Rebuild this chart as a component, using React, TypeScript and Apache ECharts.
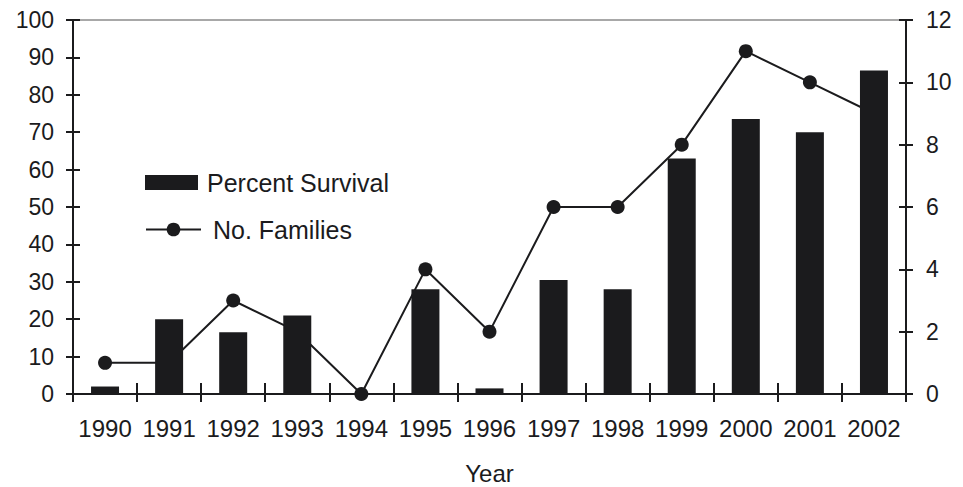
import React, { useEffect, useRef } from "react";
import * as echarts from "echarts";

const years = ["1990", "1991", "1992", "1993", "1994", "1995", "1996", "1997", "1998", "1999", "2000", "2001", "2002"];
const percentSurvival = [2, 20, 16.5, 21, 0, 28, 1.5, 30.5, 28, 63, 73.5, 70, 86.5];
const noFamilies = [1, 1, 3, 2, 0, 4, 2, 6, 6, 8, 11, 10, 9];

const FONT = "'Liberation Sans', Arial, sans-serif";
const INK = "#1b1b1d";

export default function App() {
  const ref = useRef<HTMLDivElement>(null);
  useEffect(() => {
    const chart = echarts.init(ref.current!, null, { renderer: "svg" });
    const labelStyle = { color: INK, fontFamily: FONT, fontSize: 23 };
    const leftAxisBase = { type: "value", min: 0, max: 100, interval: 10, position: "left" };
    const rightAxisBase = { type: "value", min: 0, max: 12, interval: 2, position: "right" };
    chart.setOption({
      animation: false,
      backgroundColor: "#ffffff",
      grid: {
        left: 73, right: 57, top: 20, bottom: 93,
        outerBoundsMode: "none", containLabel: false,
        show: true, borderColor: "#a8a8a8", borderWidth: 2,
      },
      legend: [
        {
          data: [{ name: "Percent Survival", icon: "rect" }],
          left: 140,
          top: 165,
          itemWidth: 53,
          itemHeight: 15,
          textStyle: { color: INK, fontFamily: FONT, fontSize: 25, padding: [0, 0, 0, 4] },
          selectedMode: false,
        },
        {
          data: ["No. Families"],
          left: 140,
          top: 212,
          itemWidth: 55,
          itemHeight: 17,
          textStyle: { color: INK, fontFamily: FONT, fontSize: 25, padding: [0, 0, 0, 7] },
          selectedMode: false,
        },
      ],
      xAxis: [
        {
          type: "category",
          data: years,
          boundaryGap: true,
          name: "Year",
          nameLocation: "middle",
          nameGap: 67,
          nameTextStyle: { color: INK, fontFamily: FONT, fontSize: 24 },
          axisLine: { lineStyle: { color: INK, width: 2 } },
          axisTick: { show: true, length: 8, lineStyle: { color: INK, width: 2 } },
          axisLabel: { ...labelStyle, fontSize: 24, margin: 22, interval: 0 },
          splitLine: { show: false },
        },
        {
          type: "category",
          data: years,
          position: "bottom",
          boundaryGap: true,
          axisLine: { show: false },
          axisTick: { show: true, inside: true, length: 11, lineStyle: { color: INK, width: 2 } },
          axisLabel: { show: false },
          splitLine: { show: false },
        },
      ],
      yAxis: [
        {
          ...leftAxisBase,
          axisLine: { show: true, lineStyle: { color: INK, width: 2 } },
          axisTick: { show: true, length: 7, lineStyle: { color: INK, width: 2 } },
          axisLabel: { ...labelStyle, margin: 19 },
          splitLine: { show: false },
        },
        {
          ...rightAxisBase,
          axisLine: { show: true, lineStyle: { color: INK, width: 2 } },
          axisTick: { show: true, length: 7, lineStyle: { color: INK, width: 2 } },
          axisLabel: { ...labelStyle, margin: 20 },
          splitLine: { show: false },
        },
        {
          ...leftAxisBase,
          axisLine: { show: false },
          axisTick: { show: true, inside: true, length: 7, lineStyle: { color: INK, width: 2 } },
          axisLabel: { show: false },
          splitLine: { show: false },
        },
        {
          ...rightAxisBase,
          axisLine: { show: false },
          axisTick: { show: true, inside: true, length: 7, lineStyle: { color: INK, width: 2 } },
          axisLabel: { show: false },
          splitLine: { show: false },
        },
      ],
      series: [
        {
          name: "Percent Survival",
          type: "bar",
          xAxisIndex: 0,
          yAxisIndex: 0,
          data: percentSurvival,
          barWidth: 28,
          itemStyle: { color: INK },
          z: 4,
        },
        {
          name: "No. Families",
          type: "line",
          xAxisIndex: 0,
          yAxisIndex: 1,
          data: noFamilies,
          symbol: "circle",
          symbolSize: 14,
          showAllSymbol: true,
          lineStyle: { color: INK, width: 2 },
          itemStyle: { color: INK },
          z: 3,
        },
      ],
    });
    return () => chart.dispose();
  }, []);
  return <div ref={ref} style={{ width: 963, height: 487, position: "absolute", left: 0, top: 0 }} />;
}
